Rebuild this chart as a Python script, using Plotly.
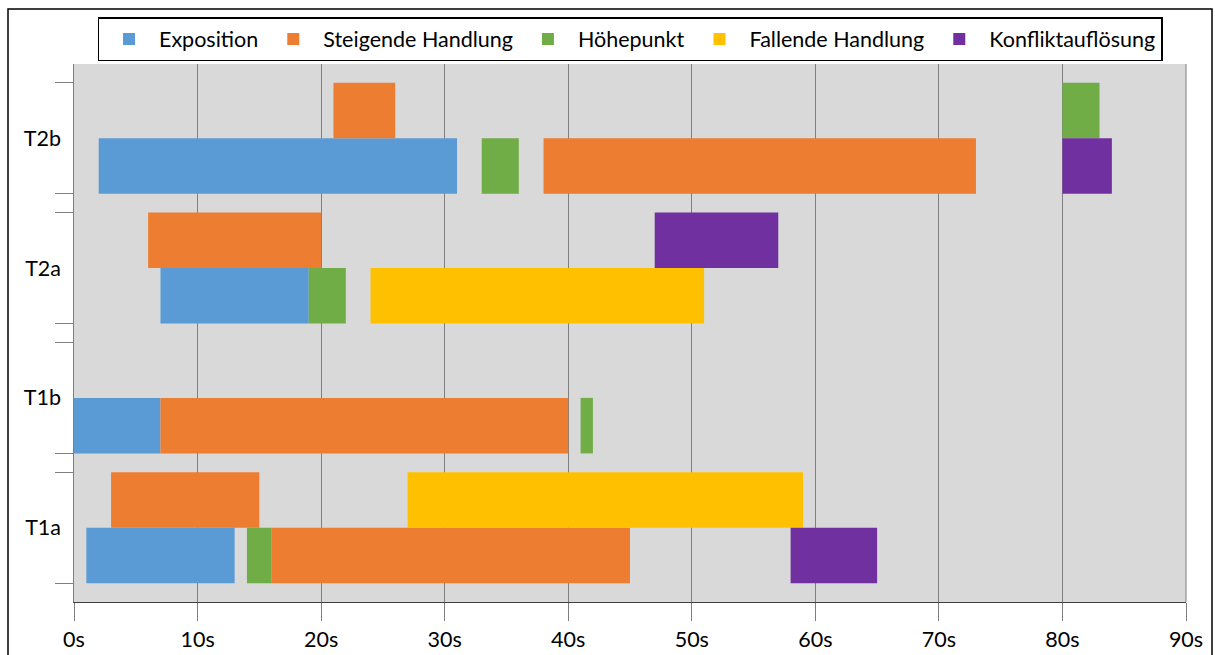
import plotly.graph_objects as go

# ---------------- data ----------------
tracks = ["T1a", "T1b", "T2a", "T2b"]          # bottom to top
phases = ["Exposition", "Steigende Handlung", "Höhepunkt",
          "Fallende Handlung", "Konfliktauflösung"]
phase_colors = ["#5B9BD5", "#ED7D31", "#70AD47", "#FFC000", "#7030A0"]

# segments per phase: track, row (0 = lower, 1 = upper), start s, end s
expo_track = ["T1a", "T1b", "T2a", "T2b"]
expo_row = [0, 0, 0, 0]
expo_start = [1, 0, 7, 2]
expo_end = [13, 7, 19, 31]

steig_track = ["T1a", "T1a", "T1b", "T2a", "T2b", "T2b"]
steig_row = [1, 0, 0, 1, 1, 0]
steig_start = [3, 16, 7, 6, 21, 38]
steig_end = [15, 45, 40, 20, 26, 73]

hoehe_track = ["T1a", "T1b", "T2a", "T2b", "T2b"]
hoehe_row = [0, 0, 0, 0, 1]
hoehe_start = [14, 41, 19, 33, 80]
hoehe_end = [16, 42, 22, 36, 83]

fall_track = ["T1a", "T2a"]
fall_row = [1, 0]
fall_start = [27, 24]
fall_end = [59, 51]

konf_track = ["T1a", "T2a", "T2b"]
konf_row = [0, 1, 0]
konf_start = [58, 47, 80]
konf_end = [65, 57, 84]

x_ticks = [0, 10, 20, 30, 40, 50, 60, 70, 80, 90]
x_tick_labels = [f"{v}s" for v in x_ticks]

series = [
    (expo_track, expo_row, expo_start, expo_end),
    (steig_track, steig_row, steig_start, steig_end),
    (hoehe_track, hoehe_row, hoehe_start, hoehe_end),
    (fall_track, fall_row, fall_start, fall_end),
    (konf_track, konf_row, konf_start, konf_end),
]

# ---------------- layout geometry ----------------
ROW = 55.5
GAP = 18.8
TOTAL = GAP * (len(tracks) + 1) + 2 * ROW * len(tracks)


def group_bottom(k):
    return GAP * (k + 1) + 2 * ROW * k


def row_center(track, row):
    k = tracks.index(track)
    return group_bottom(k) + ROW * (row + 0.5)


FONT = "Lato"
FS = 21.5

fig = go.Figure()
for name, color, (trk, rw, st, en) in zip(phases, phase_colors, series):
    fig.add_trace(go.Bar(
        name=name,
        orientation="h",
        y=[row_center(t, r) for t, r in zip(trk, rw)],
        base=st,
        x=[e - s for s, e in zip(st, en)],
        width=ROW,
        marker=dict(color=color, line=dict(width=0)),
        yaxis="y",
    ))

# invisible trace to enable y2 labels axis
fig.add_trace(go.Scatter(x=[None], y=[None], yaxis="y2", showlegend=False,
                         hoverinfo="skip"))

tick_pos = []
for k in range(len(tracks)):
    b = group_bottom(k)
    tick_pos += [b, b + 2 * ROW]

L, R, T, B = 74, 29, 64, 53
W, H = 1215, 655
pw, ph = W - L - R, H - T - B

fig.update_layout(
    width=W, height=H,
    margin=dict(l=L, r=R, t=T, b=B, pad=0, autoexpand=False),
    paper_bgcolor="white",
    plot_bgcolor="#D9D9D9",
    barmode="overlay",
    font=dict(family=FONT, size=FS, color="#000000"),
    showlegend=True,
    legend=dict(
        orientation="h",
        x=0.5, xanchor="center",
        y=(H - B - 17) / ph, yanchor="top",
        bordercolor="#000000", borderwidth=1.5,
        bgcolor="white",
        itemwidth=50,
        font=dict(family=FONT, size=FS, color="#000000"),
        traceorder="normal",
    ),
    xaxis=dict(
        range=[0, 90],
        tickvals=x_ticks, ticktext=x_tick_labels,
        showgrid=True, gridcolor="#7F7F7F", gridwidth=1,
        showline=True, linecolor="#404040", linewidth=1.2,
        ticks="outside", ticklen=18, tickcolor="#7F7F7F", tickwidth=1,
        ticklabelstandoff=0,
        automargin=False,
        zeroline=False,
        tickfont=dict(family=FONT, size=FS, color="#000000"),
        fixedrange=True,
    ),
    yaxis=dict(
        range=[0, TOTAL],
        tickvals=tick_pos, ticktext=[""] * len(tick_pos),
        showgrid=False, zeroline=False,
        showline=True, linecolor="#7F7F7F", linewidth=1,
        ticks="outside", ticklen=18, tickcolor="#7F7F7F", tickwidth=1,
        automargin=False,
        fixedrange=True,
    ),
    yaxis2=dict(
        overlaying="y", side="left", anchor="x",
        range=[0, TOTAL],
        tickvals=[group_bottom(k) + ROW for k in range(len(tracks))],
        ticktext=tracks,
        showgrid=False, zeroline=False, showline=False, ticks="",
        ticklabelstandoff=12,
        automargin=False,
        tickfont=dict(family=FONT, size=FS, color="#000000"),
        fixedrange=True,
    ),
)

# outer chart border
fig.add_shape(type="rect", xref="paper", yref="paper",
              x0=(8 - L) / pw, x1=(1212 - L) / pw,
              y0=(H - B - 670) / ph, y1=(H - B - 9) / ph,
              line=dict(color="#000000", width=1.5), fillcolor="rgba(0,0,0,0)",
              layer="above")
# right edge gridline of plot area (90s)
fig.add_shape(type="line", xref="paper", yref="paper", x0=1, x1=1, y0=0, y1=1,
              line=dict(color="#7F7F7F", width=1), layer="below")

fig.write_html("out.html")
